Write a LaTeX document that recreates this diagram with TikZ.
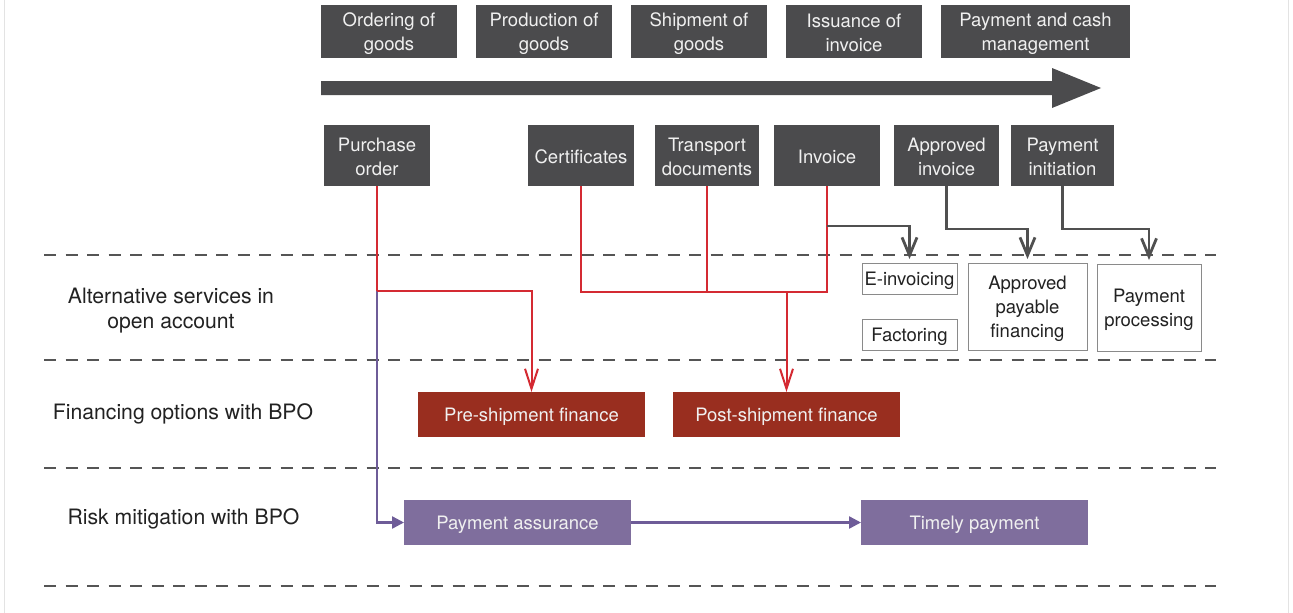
\documentclass[tikz,border=0pt]{standalone}
\usepackage{fontspec}
\setmainfont{TeX Gyre Heros}
\usetikzlibrary{arrows.meta}
\definecolor{darkbox}{HTML}{4B4B4D}
\definecolor{redbox}{HTML}{992E1F}
\definecolor{purpbox}{HTML}{7F6E9D}
\definecolor{redline}{HTML}{D42A32}
\definecolor{purpline}{HTML}{6E5C98}
\definecolor{grayline}{HTML}{505050}
\definecolor{dashcol}{HTML}{555555}
\definecolor{wborder}{HTML}{8A8A8A}
\definecolor{txt}{HTML}{222222}
\newcommand{\ms}{\rule[-4pt]{0pt}{23pt}}
\tikzset{
  every node/.style={inner sep=0pt, outer sep=0pt, align=center, font=\fontsize{18.5}{24}\selectfont},
  dbox/.style={fill=darkbox, text=white!94!black, draw=none},
  rbox/.style={fill=redbox, text=white!94!black, minimum width=227pt, minimum height=45pt},
  pbox/.style={fill=purpbox, text=white!94!black, minimum width=227pt, minimum height=45pt},
  wbox/.style={draw=wborder, line width=1pt, fill=white, text=txt},
  lanelabel/.style={text=txt, font=\fontsize{21.2}{25}\selectfont},
  laneline/.style={draw=dashcol, line width=2.6pt, dash pattern=on 12pt off 9.5pt},
  redc/.style={draw=redline, line width=2pt},
  redarr/.style={redc, -{Straight Barb[length=20pt,width=13pt,line width=2pt]}},
  grayarr/.style={draw=grayline, line width=2.8pt, -{Straight Barb[length=18pt,width=15pt,line width=2.8pt]}, shorten >=4pt},
  purpc/.style={draw=purpline, line width=2.4pt},
  purparr/.style={purpc, -{Triangle[length=12pt,width=12pt]}},
}
\begin{document}
\begin{tikzpicture}[x=1pt,y=-1pt]
\useasboundingbox (0,0) rectangle (1293,613);
\fill[white] (0,0) rectangle (1293,613);
\draw[gray!22, line width=1.2pt] (4.5,0) -- (4.5,613);
\draw[gray!22, line width=1.2pt] (1288.5,0) -- (1288.5,613);

% top stage boxes
\node[dbox, minimum width=136pt, minimum height=53pt] (ord) at (389,31.5) {Ordering of\ms\\goods\ms};
\node[dbox, minimum width=136pt, minimum height=53pt] (prod) at (544,31.5) {Production of\ms\\goods\ms};
\node[dbox, minimum width=136pt, minimum height=53pt] (ship) at (699,31.5) {Shipment of\ms\\goods\ms};
\node[dbox, minimum width=136pt, minimum height=53pt] (iss) at (854,31.5) {Issuance of\ms\\invoice\ms};
\node[dbox, minimum width=189pt, minimum height=53pt] (paycash) at (1035.5,31.5) {Payment and cash\ms\\management\ms};

% big process arrow
\fill[darkbox] (321,81) -- (1052,81) -- (1052,68) -- (1101,88) -- (1052,108) -- (1052,95) -- (321,95) -- cycle;

% document boxes
\node[dbox, minimum width=106pt, minimum height=61pt] (po) at (377,155.5) {Purchase\ms\\order\ms};
\node[dbox, minimum width=106pt, minimum height=61pt] (cert) at (581,155.5) {Certificates\ms};
\node[dbox, minimum width=104pt, minimum height=61pt] (trans) at (707,155.5) {Transport\ms\\documents\ms};
\node[dbox, minimum width=106pt, minimum height=61pt] (inv) at (827,155.5) {Invoice\ms};
\node[dbox, minimum width=105pt, minimum height=61pt] (appinv) at (946.5,155.5) {Approved\ms\\invoice\ms};
\node[dbox, minimum width=103pt, minimum height=61pt] (payinit) at (1062.5,155.5) {Payment\ms\\initiation\ms};

% lane separators
\draw[laneline] (44,255) -- (1216,255);
\draw[laneline] (44,360) -- (1216,360);
\draw[laneline] (44,468) -- (1216,468);
\draw[laneline] (44,586) -- (1216,586);

% lane labels
\node[lanelabel] (l1) at (171,308.5) {Alternative services in\ms\\open account\ms};
\node[lanelabel] (l2) at (183,412.5) {Financing options with BPO\ms};
\node[lanelabel] (l3) at (183.5,517.5) {Risk mitigation with BPO\ms};

% alternative services boxes
\node[wbox, minimum width=95pt, minimum height=31pt] (einv) at (909.5,278.5) {E-invoicing\ms};
\node[wbox, minimum width=95pt, minimum height=31pt] (fact) at (909.5,334.5) {Factoring\ms};
\node[wbox, minimum width=119pt, minimum height=87pt] (apf) at (1027.5,306.5) {Approved\ms\\payable\ms\\financing\ms};
\node[wbox, minimum width=104pt, minimum height=87pt] (pp) at (1149,307.5) {Payment\ms\\processing\ms};

% financing boxes
\node[rbox] (pre) at (531.5,414.5) {Pre-shipment finance\ms};
\node[rbox] (post) at (786.5,414.5) {Post-shipment finance\ms};

% risk mitigation boxes
\node[pbox] (pa) at (517.5,522.5) {Payment assurance\ms};
\node[pbox] (tp) at (974.5,522.5) {Timely payment\ms};

% junction coordinates
\coordinate (j1) at (po.south |- 0,291);
\coordinate (rj) at (inv.south |- 0,292);
\coordinate (g1) at (inv.south |- 0,226);

% purple connectors (drawn first, under red)
\draw[purparr] (j1) |- (pa.west);
\draw[purparr] (pa.east) -- (tp.west);

% red connectors
\draw[redc] (po.south) -- (j1);
\draw[redarr] (j1) -| (pre.north);
\draw[redc] (cert.south) |- (rj) -- (inv.south);
\draw[redc] (trans.south) -- (trans.south |- rj);
\draw[redarr] (post.north |- rj) -- (post.north);

% gray connectors
\draw[grayarr] (g1) -| (einv.north);
\draw[grayarr] (appinv.south) -- ++(0,43) -| (apf.north);
\draw[grayarr] (payinit.south) -- ++(0,43) -| (pp.north);
\end{tikzpicture}
\end{document}
